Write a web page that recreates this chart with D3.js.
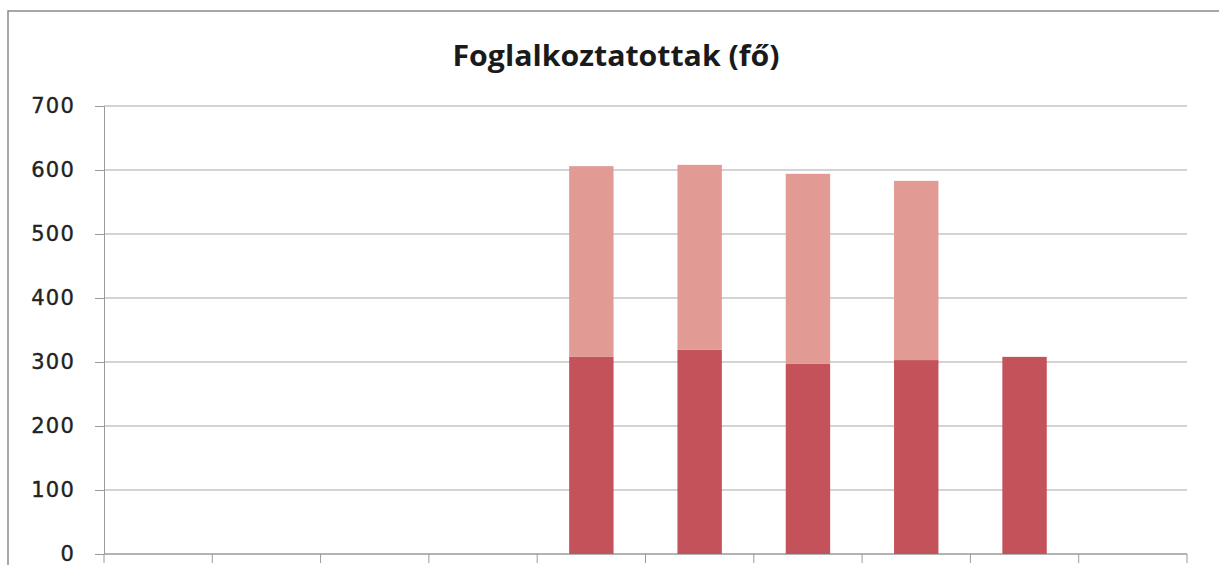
<!DOCTYPE html>
<html><head><meta charset="utf-8">
<script src="https://cdn.jsdelivr.net/npm/d3@7"></script>
<style>body{margin:0;background:#fff}svg{display:block}</style>
</head><body>
<svg id="c" width="1219" height="565"></svg>
<script>
const categories = ["1","2","3","4","5","6","7","8","9","10"];
const seriesDark = [null,null,null,null,308,319,297,303,308,null];
const seriesLight = [null,null,null,null,298,289,297,280,null,null];
const yTicks = [0,100,200,300,400,500,600,700];
const title = "Foglalkoztatottak (fő)";

const svg = d3.select("#c");
const m = {l:104, r:1187, t:106, b:554};
const x = d3.scaleBand().domain(categories).range([m.l, m.r]).paddingInner(0.59).paddingOuter(0.295);
const xb = d3.scaleBand().domain(categories).range([m.l, m.r]);
const y = d3.scaleLinear().domain([0,700]).range([m.b, m.t]);

// outer frame
svg.append("rect").attr("x",8).attr("y",11).attr("width",1230).attr("height",600)
  .attr("fill","none").attr("stroke","#8a8a8a").attr("stroke-width",1.5);

// gridlines
svg.append("g").selectAll("line").data(yTicks.filter(d=>d>0)).join("line")
  .attr("x1",m.l).attr("x2",m.r).attr("y1",d=>y(d)).attr("y2",d=>y(d))
  .attr("stroke","#c4c4c4").attr("stroke-width",1.3);

// y axis
const ya = svg.append("g").attr("transform",`translate(${m.l},0)`)
  .call(d3.axisLeft(y).tickValues(yTicks).tickSize(9).tickPadding(20));
ya.select(".domain").attr("stroke","#9a9a9a");
ya.selectAll(".tick line").attr("stroke","#9a9a9a");
ya.selectAll("text").attr("font-family","DejaVu Sans").attr("font-size",21).attr("fill","#222")
  .attr("letter-spacing",1.2).attr("stroke","#222").attr("stroke-width",0.4);

// x axis (ticks at category boundaries; category labels lie below the visible area)
const xa = svg.append("g").attr("transform",`translate(0,${m.b})`);
xa.append("line").attr("x1",m.l).attr("x2",m.r).attr("stroke","#9a9a9a").attr("stroke-width",1.3);
xa.selectAll(".bt").data(categories.concat(["end"])).join("line").attr("class","bt")
  .attr("x1",(d,i)=> i<categories.length ? xb(d) : m.r)
  .attr("x2",(d,i)=> i<categories.length ? xb(d) : m.r)
  .attr("y1",0).attr("y2",9).attr("stroke","#9a9a9a");

// stacked bars
const rows = categories.map((c,i)=>({c, dark: seriesDark[i]||0, light: seriesLight[i]||0}));
const stack = d3.stack().keys(["dark","light"])(rows);
const colors = {dark:"#c4525a", light:"#e29a95"};
svg.append("g").selectAll("g").data(stack).join("g").attr("fill",d=>colors[d.key])
  .selectAll("rect").data(d=>d.filter(p=>p[1]-p[0]>0)).join("rect")
  .attr("x",d=>x(d.data.c)).attr("width",x.bandwidth())
  .attr("y",d=>y(d[1])).attr("height",d=>y(d[0])-y(d[1]));

// title
svg.append("text").attr("x",616).attr("y",66).attr("text-anchor","middle")
  .attr("font-family","Open Sans").attr("font-weight","bold").attr("font-size",28)
  .attr("textLength",327).attr("lengthAdjust","spacingAndGlyphs")
  .attr("fill","#1a1a1a").text(title);
</script>
</body></html>
